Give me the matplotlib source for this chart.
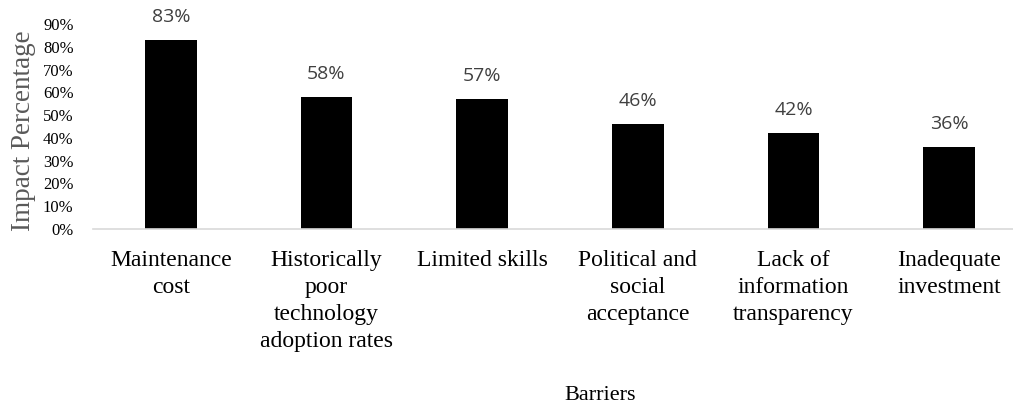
import matplotlib.pyplot as plt
from matplotlib.ticker import PercentFormatter

barriers = [
    "Maintenance\ncost",
    "Historically\npoor\ntechnology\nadoption rates",
    "Limited skills",
    "Political and\nsocial\nacceptance",
    "Lack of\ninformation\ntransparency",
    "Inadequate\ninvestment",
]
impact = [0.83, 0.58, 0.57, 0.46, 0.42, 0.36]

fig = plt.figure(figsize=(10.13, 4.07), dpi=100)
# axes run slightly past the right edge, as in the original layout
ax = fig.add_axes([93 / 1013, 178 / 407, 934 / 1013, 205 / 407])

x = range(len(barriers))
bars = ax.bar(x, impact, width=0.33, color="black")

for rect, v in zip(bars, impact):
    ax.annotate(f"{v:.0%}", (rect.get_x() + rect.get_width() / 2, v),
                xytext=(0, 10), textcoords="offset points",
                ha="center", va="bottom", fontsize=14,
                family="Open Sans", color="#404040")

ax.set_xlim(-0.5, len(barriers) - 0.5)
ax.set_ylim(0, 0.9)
ax.set_yticks([i / 10 for i in range(10)])
ax.yaxis.set_major_formatter(PercentFormatter(1.0, decimals=0))

ax.set_xticks(list(x))
ax.set_xticklabels(barriers, family="Liberation Serif", fontsize=17,
                   linespacing=1.37)
for lbl in ax.get_yticklabels():
    lbl.set_family("Liberation Serif")
    lbl.set_fontsize(12)
ax.tick_params(axis="both", length=0)
ax.tick_params(axis="x", pad=15)
ax.tick_params(axis="y", pad=14)

for side in ["top", "right", "left"]:
    ax.spines[side].set_visible(False)
ax.spines["bottom"].set_color("#d9d9d9")
ax.spines["bottom"].set_linewidth(1.2)

ax.set_ylabel("Impact Percentage", family="Liberation Serif", fontsize=19.5,
              color="#595959")
ax.yaxis.set_label_coords(-57 / 934, (229 - 131) / 205)
fig.text(600 / 1013, 1 - 395 / 407, "Barriers", family="Liberation Serif",
         fontsize=16, ha="center", va="center")

fig.savefig("out.png", dpi=100)
